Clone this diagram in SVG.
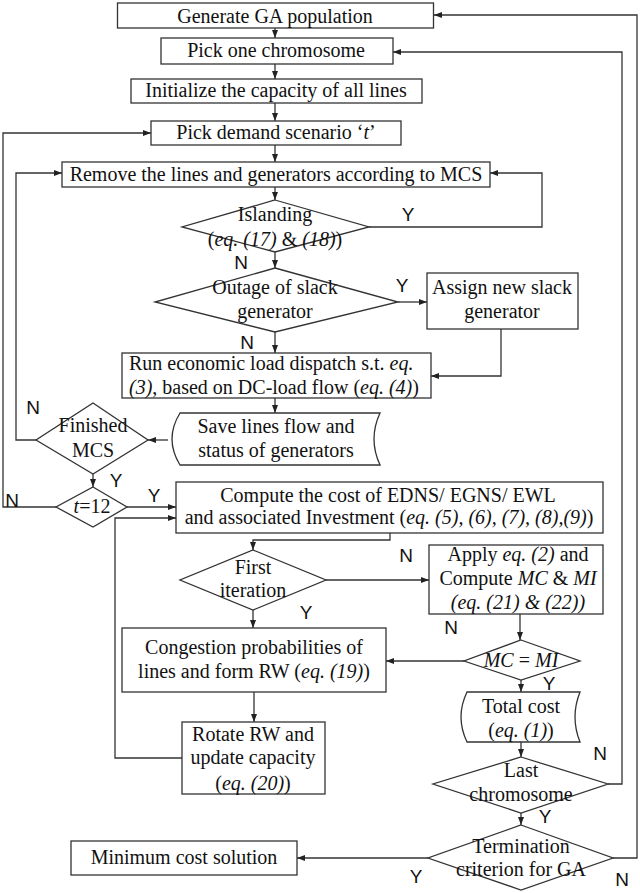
<svg xmlns="http://www.w3.org/2000/svg" width="640" height="893" viewBox="0 0 640 893">
<style>
.b{fill:#fff;stroke:#333;stroke-width:1.3}
.t{font-family:"Liberation Serif","Times New Roman",serif;font-size:20px;fill:#111;text-anchor:middle}
.s{text-anchor:start}
.i{font-style:italic}
.l{font-family:"Liberation Sans",Arial,sans-serif;font-size:19px;fill:#111;text-anchor:middle}
.c{fill:none;stroke:#333;stroke-width:1.3;marker-end:url(#a)}
</style>
<defs>
<marker id="a" markerUnits="userSpaceOnUse" markerWidth="8" markerHeight="6" refX="8" refY="3" orient="auto"><path d="M0,0 L8,3 L0,6 z" fill="#222"/></marker>
</defs>
<rect width="640" height="893" fill="#fff"/>
<g id="connectors">
<path class="c" d="M275,28 V38"/>
<path class="c" d="M275,64 V79"/>
<path class="c" d="M275,103 V121"/>
<path class="c" d="M275,145 V162"/>
<path class="c" d="M275,187 V200"/>
<path class="c" d="M369,227 H542 V173 H490"/>
<path class="c" d="M275,252 V268"/>
<path class="c" d="M398,302 H427"/>
<path class="c" d="M275,332 V353"/>
<path class="c" d="M501,329 V376 H431"/>
<path class="c" d="M275,398 V413"/>
<path class="c" d="M168,440 H148"/>
<path class="c" d="M36,440 H16 V173 H62"/>
<path class="c" d="M93,474 V487"/>
<path class="c" d="M56,507 H3 V133 H151"/>
<path class="c" d="M127,507 H176"/>
<path class="c" d="M390,533 V540 H253 V550"/>
<path class="c" d="M326,580 H429"/>
<path class="c" d="M253,610 V628"/>
<path class="c" d="M520,614 V640"/>
<path class="c" d="M464,661 H386"/>
<path class="c" d="M254,692 V722"/>
<path class="c" d="M182,758 H115 V518 H176"/>
<path class="c" d="M521,680 V692"/>
<path class="c" d="M521,742 V757"/>
<path class="c" d="M608,784 H622 V52 H393"/>
<path class="c" d="M521,813 V825"/>
<path class="c" d="M613,858 H637 V15 H434"/>
<path class="c" d="M428,858 H297"/>
</g>
<g id="n1"><rect class="b" x="117.5" y="3" width="316" height="25"/><text class="t" x="275" y="22.5">Generate GA population</text></g>
<g id="n2"><rect class="b" x="161" y="38" width="232" height="26"/><text class="t" x="276" y="57">Pick one chromosome</text></g>
<g id="n3"><rect class="b" x="131" y="79" width="291" height="24"/><text class="t" x="276" y="97">Initialize the capacity of all lines</text></g>
<g id="n4"><rect class="b" x="151" y="121" width="250" height="24"/><text class="t" x="276" y="139">Pick demand scenario ‘<tspan class="i">t</tspan>’</text></g>
<g id="n5"><rect class="b" x="62" y="162" width="428" height="25"/><text class="t" x="276" y="181">Remove the lines and generators according to MCS</text></g>
<g id="n6"><path class="b" d="M275,200 L369,227 L275,252 L182,227 Z"/><text class="t" x="275" y="221">Islanding</text><text class="t" x="275" y="246">(<tspan class="i">eq. (17)</tspan> &amp; <tspan class="i">(18)</tspan>)</text></g>
<g id="n7"><path class="b" d="M275,268 L398,302 L275,332 L155,302 Z"/><text class="t" x="275" y="294">Outage of slack</text><text class="t" x="275" y="318">generator</text></g>
<g id="n8"><rect class="b" x="427" y="273" width="151" height="56"/><text class="t" x="502" y="294">Assign new slack</text><text class="t" x="502" y="318">generator</text></g>
<g id="n9"><rect class="b" x="122" y="353" width="309" height="45"/><text class="t s" x="129" y="370">Run economic load dispatch  s.t. <tspan class="i">eq.</tspan></text><text class="t s" x="129" y="394"><tspan class="i">(3)</tspan>, based on DC-load flow (<tspan class="i">eq. (4)</tspan>)</text></g>
<g id="n10"><path class="b" d="M180,413 H380 Q368,439 380,465 H180 Q164,439 180,413 Z"/><text class="t" x="276" y="433">Save lines flow and</text><text class="t" x="276" y="457">status of generators</text></g>
<g id="n11"><path class="b" d="M93,403 L148,440 L93,474 L36,440 Z"/><text class="t" x="93" y="432">Finished</text><text class="t" x="93" y="457">MCS</text></g>
<g id="n12"><path class="b" d="M93,487 L127,507 L93,527 L56,507 Z"/><text class="t" x="92" y="513"><tspan class="i">t</tspan>=12</text></g>
<g id="n13"><rect class="b" x="176" y="482" width="427" height="51"/><text class="t" x="388" y="502">Compute the cost of EDNS/ EGNS/ EWL</text><text class="t" x="389" y="524">and associated Investment (<tspan class="i">eq. (5), (6), (7), (8),(9)</tspan>)</text></g>
<g id="n14"><path class="b" d="M253,550 L326,580 L253,610 L180,580 Z"/><text class="t" x="253" y="574">First</text><text class="t" x="253" y="597">iteration</text></g>
<g id="n15"><rect class="b" x="429" y="545" width="174" height="69"/><text class="t" x="518" y="561">Apply <tspan class="i">eq. (2)</tspan> and</text><text class="t" x="518" y="585">Compute <tspan class="i">MC</tspan> &amp; <tspan class="i">MI</tspan></text><text class="t i" x="518" y="609">(eq. (21) &amp; (22))</text></g>
<g id="n16"><rect class="b" x="122" y="628" width="264" height="64"/><text class="t" x="254" y="654">Congestion probabilities of</text><text class="t" x="254" y="678">lines and form RW  (<tspan class="i">eq. (19)</tspan>)</text></g>
<g id="n17"><path class="b" d="M521,640 L580,661 L521,680 L464,661 Z"/><text class="t" x="521" y="667"><tspan class="i">MC</tspan> = <tspan class="i">MI</tspan></text></g>
<g id="n18"><rect class="b" x="182" y="722" width="143" height="72"/><text class="t" x="253" y="741">Rotate RW and</text><text class="t" x="253" y="764">update capacity</text><text class="t" x="253" y="790">(<tspan class="i">eq. (20)</tspan>)</text></g>
<g id="n19"><path class="b" d="M467,692 H580 Q570,717 580,742 H467 Q455,717 467,692 Z"/><text class="t" x="521" y="713">Total cost</text><text class="t" x="521" y="737">(<tspan class="i">eq. (1)</tspan>)</text></g>
<g id="n20"><path class="b" d="M521,757 L608,784 L521,813 L433,784 Z"/><text class="t" x="521" y="777">Last</text><text class="t" x="521" y="801">chromosome</text></g>
<g id="n21"><path class="b" d="M521,825 L613,858 L521,890 L428,858 Z"/><text class="t" x="521" y="853">Termination</text><text class="t" x="521" y="876">criterion for GA</text></g>
<g id="n22"><rect class="b" x="71" y="841" width="226" height="34"/><text class="t" x="184" y="864">Minimum cost solution</text></g>
<g id="labels">
<text class="l" x="408" y="221">Y</text>
<text class="l" x="241" y="269">N</text>
<text class="l" x="402" y="292">Y</text>
<text class="l" x="247" y="349">N</text>
<text class="l" x="33" y="414">N</text>
<text class="l" x="116" y="487">Y</text>
<text class="l" x="12" y="507">N</text>
<text class="l" x="154" y="502">Y</text>
<text class="l" x="406" y="562">N</text>
<text class="l" x="306" y="619">Y</text>
<text class="l" x="451" y="634">N</text>
<text class="l" x="549" y="690">Y</text>
<text class="l" x="600" y="760">N</text>
<text class="l" x="545" y="823">Y</text>
<text class="l" x="416" y="883">Y</text>
<text class="l" x="622" y="886">N</text>
</g>
</svg>
